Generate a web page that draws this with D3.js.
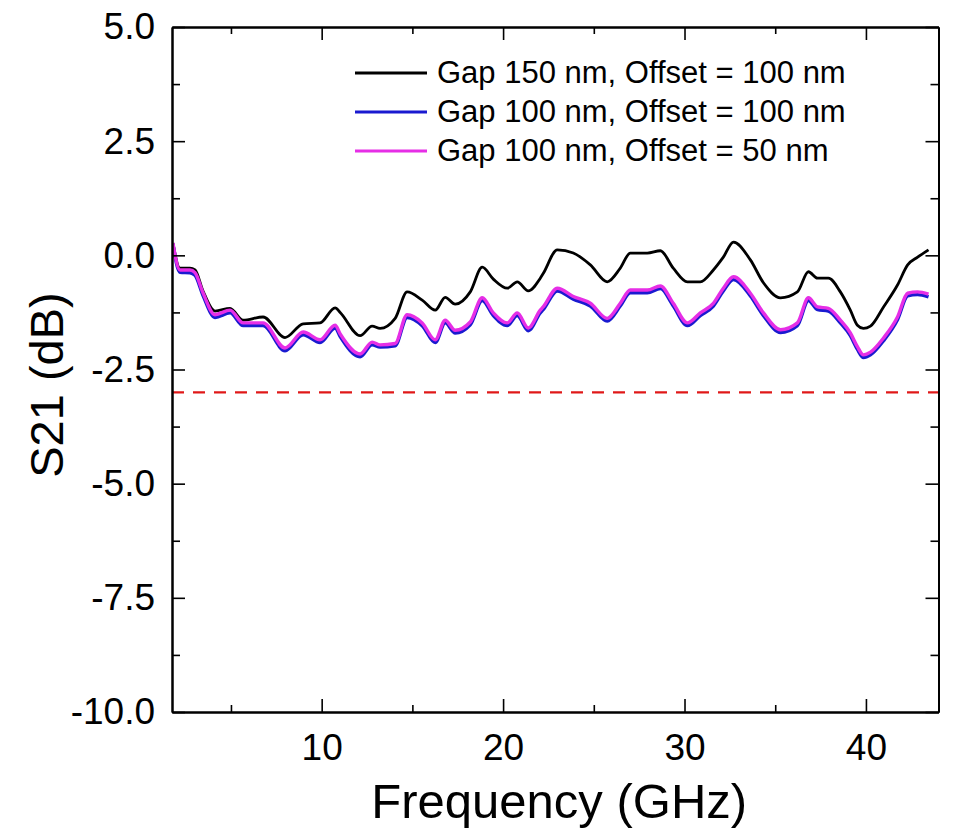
<!DOCTYPE html>
<html lang="en">
<head>
    <title>S21 vs Frequency</title>
    <meta charset="utf-8">
    <!-- Load d3.js -->
    <script src="https://d3js.org/d3.v7.min.js"></script>
    <style>
        body { margin: 0; background: #fff; }
        text { font-family: Arial, "Liberation Sans", sans-serif; fill: #000; }
    </style>
</head>
<body>
<div id="chart"></div>
<script>
    // Frequency points (GHz)
    const freq = [1.80, 2.19, 2.74, 3.02, 3.46, 4.12, 4.95, 5.67, 6.77, 7.98, 8.98, 9.91, 10.74, 11.02,
        12.12, 12.78, 13.22, 14.05, 14.71, 15.54, 16.26, 16.81, 17.36, 18.19, 18.85, 19.46, 20.23, 20.78,
        21.39, 22.05, 22.21, 22.99, 23.87, 24.81, 25.74, 26.46, 27.01, 27.95, 28.67, 29.38, 30.16, 30.87,
        31.59, 32.14, 32.70, 33.63, 34.35, 35.29, 36.22, 36.83, 37.33, 37.93, 38.59, 39.14, 39.53, 39.86,
        40.25, 40.97, 41.74, 42.30, 42.85, 43.45];

    // S21 (dB) for each device
    const gap150off100 = [0.27, -0.28, -0.28, -0.32, -0.78, -1.22, -1.16, -1.42, -1.35, -1.80, -1.50, -1.48,
        -1.15, -1.25, -1.76, -1.55, -1.60, -1.38, -0.80, -0.98, -1.20, -0.92, -1.07, -0.80, -0.26, -0.52,
        -0.72, -0.58, -0.78, -0.50, -0.40, 0.12, 0.05, -0.21, -0.58, -0.28, 0.05, 0.05, 0.10, -0.28, -0.58,
        -0.58, -0.32, -0.04, 0.29, -0.10, -0.60, -0.93, -0.80, -0.36, -0.50, -0.50, -0.80, -1.20, -1.53,
        -1.60, -1.55, -1.13, -0.65, -0.21, -0.04, 0.12];
    const gap100off100 = [0.25, -0.37, -0.38, -0.44, -0.88, -1.36, -1.26, -1.54, -1.54, -2.09, -1.74, -1.91,
        -1.59, -1.78, -2.22, -1.96, -2.01, -1.98, -1.36, -1.54, -1.91, -1.48, -1.70, -1.52, -0.99, -1.32,
        -1.54, -1.32, -1.65, -1.26, -1.19, -0.78, -0.96, -1.11, -1.44, -1.11, -0.82, -0.82, -0.73, -1.11,
        -1.54, -1.32, -1.11, -0.78, -0.53, -0.89, -1.32, -1.69, -1.54, -0.99, -1.19, -1.22, -1.48, -1.76,
        -2.06, -2.24, -2.18, -1.87, -1.41, -0.89, -0.86, -0.91];
    const gap100off50 = [0.27, -0.32, -0.32, -0.38, -0.82, -1.30, -1.20, -1.48, -1.48, -2.03, -1.68, -1.85,
        -1.53, -1.72, -2.16, -1.90, -1.96, -1.93, -1.30, -1.48, -1.85, -1.42, -1.64, -1.46, -0.93, -1.26,
        -1.48, -1.26, -1.59, -1.20, -1.13, -0.72, -0.90, -1.05, -1.38, -1.05, -0.76, -0.76, -0.67, -1.05,
        -1.48, -1.26, -1.05, -0.72, -0.47, -0.83, -1.26, -1.63, -1.48, -0.93, -1.13, -1.16, -1.42, -1.70,
        -2.00, -2.18, -2.12, -1.81, -1.35, -0.83, -0.80, -0.85];

    const seriesNames = ["Gap 150 nm, Offset = 100 nm", "Gap 100 nm, Offset = 100 nm", "Gap 100 nm, Offset = 50 nm"];
    const seriesColors = ["#000000", "#1a1ad0", "#e62ee6"];
    const xTicks = [10, 20, 30, 40];
    const xMinorTicks = [5, 15, 25, 35];
    const yTicks = [5, 2.5, 0, -2.5, -5, -7.5, -10];
    const yMinorTicks = [3.75, 1.25, -1.25, -3.75, -6.25, -8.75];
    const threshold = -3;

    // Dimensions
    const W = 953, H = 829;
    const margin = {top: 27, right: 14.5, bottom: 117, left: 172},
        width = W - margin.left - margin.right,
        height = H - margin.top - margin.bottom;

    const svg = d3.select("#chart")
        .append("svg")
        .attr("width", W)
        .attr("height", H)
        .append("g")
        .attr("transform", `translate(${margin.left},${margin.top})`);

    const x = d3.scaleLinear().domain([1.75, 44]).range([0, width]);
    const y = d3.scaleLinear().domain([-10, 5]).range([height, 0]);

    // Clip so lines stay inside the frame
    svg.append("clipPath").attr("id", "clip")
        .append("rect").attr("width", width).attr("height", height);

    // Threshold line
    svg.append("line")
        .attr("x1", 0).attr("x2", width)
        .attr("y1", y(threshold)).attr("y2", y(threshold))
        .attr("stroke", "#e01818")
        .attr("stroke-width", 2.4)
        .attr("stroke-dasharray", "12,9");

    // Curves
    const series = [gap150off100, gap100off100, gap100off50];
    const line = d3.line()
        .curve(d3.curveMonotoneX)
        .x(d => x(d[0]))
        .y(d => y(d[1]));
    series.forEach((vals, i) => {
        svg.append("path")
            .datum(freq.map((f, j) => [f, vals[j]]))
            .attr("clip-path", "url(#clip)")
            .attr("fill", "none")
            .attr("stroke", seriesColors[i])
            .attr("stroke-width", i === 0 ? 2.8 : 3.4)
            .attr("stroke-linejoin", "round")
            .attr("d", line);
    });

    // Axes: ticks point inward on all four sides
    const fmt = d => d.toFixed(1);
    const axisStyle = g => {
        g.select(".domain").attr("stroke-width", 2);
        g.selectAll(".tick line").attr("stroke-width", 1.6);
    };

    svg.append("g")
        .attr("transform", `translate(0,${height})`)
        .call(d3.axisBottom(x).tickValues(xTicks).tickSize(-13).tickSizeOuter(0).tickPadding(18))
        .call(axisStyle)
        .call(g => g.selectAll("text").attr("font-size", 37).attr("dy", "0.8em"));
    svg.append("g")
        .attr("transform", `translate(0,${height})`)
        .call(d3.axisBottom(x).tickValues(xMinorTicks).tickSize(-7).tickSizeOuter(0).tickFormat(""))
        .call(axisStyle);
    svg.append("g")
        .call(d3.axisTop(x).tickValues(xTicks).tickSize(-13).tickSizeOuter(0).tickFormat(""))
        .call(axisStyle);
    svg.append("g")
        .call(d3.axisTop(x).tickValues(xMinorTicks).tickSize(-7).tickSizeOuter(0).tickFormat(""))
        .call(axisStyle);

    svg.append("g")
        .call(d3.axisLeft(y).tickValues(yTicks).tickSize(-13).tickSizeOuter(0).tickPadding(17).tickFormat(fmt))
        .call(axisStyle)
        .call(g => g.selectAll("text").attr("font-size", 37));
    svg.append("g")
        .call(d3.axisLeft(y).tickValues(yMinorTicks).tickSize(-8).tickSizeOuter(0).tickFormat(""))
        .call(axisStyle);
    svg.append("g")
        .attr("transform", `translate(${width},0)`)
        .call(d3.axisRight(y).tickValues(yTicks).tickSize(-13).tickSizeOuter(0).tickFormat(""))
        .call(axisStyle);
    svg.append("g")
        .attr("transform", `translate(${width},0)`)
        .call(d3.axisRight(y).tickValues(yMinorTicks).tickSize(-8).tickSizeOuter(0).tickFormat(""))
        .call(axisStyle);

    // Axis titles
    svg.append("text")
        .attr("x", width / 2 + 4)
        .attr("y", 784 - margin.top)
        .attr("text-anchor", "middle")
        .attr("font-size", 49)
        .attr("dy", "0.7em")
        .text("Frequency (GHz)");
    svg.append("text")
        .attr("transform", `translate(${63 - margin.left},${385 - margin.top}) rotate(-90)`)
        .attr("text-anchor", "middle")
        .attr("font-size", 47)
        .text("S21 (dB)");

    // Legend
    const legend = svg.append("g")
        .attr("transform", `translate(${355 - margin.left},${73 - margin.top})`);
    seriesNames.forEach((name, i) => {
        const row = legend.append("g").attr("transform", `translate(0,${i * 39})`);
        row.append("line")
            .attr("x1", 0).attr("x2", 72)
            .attr("stroke", seriesColors[i])
            .attr("stroke-width", 3);
        row.append("text")
            .attr("x", 82)
            .attr("y", 10)
            .attr("font-size", 31)
            .text(name);
    });
</script>
</body>
</html>
